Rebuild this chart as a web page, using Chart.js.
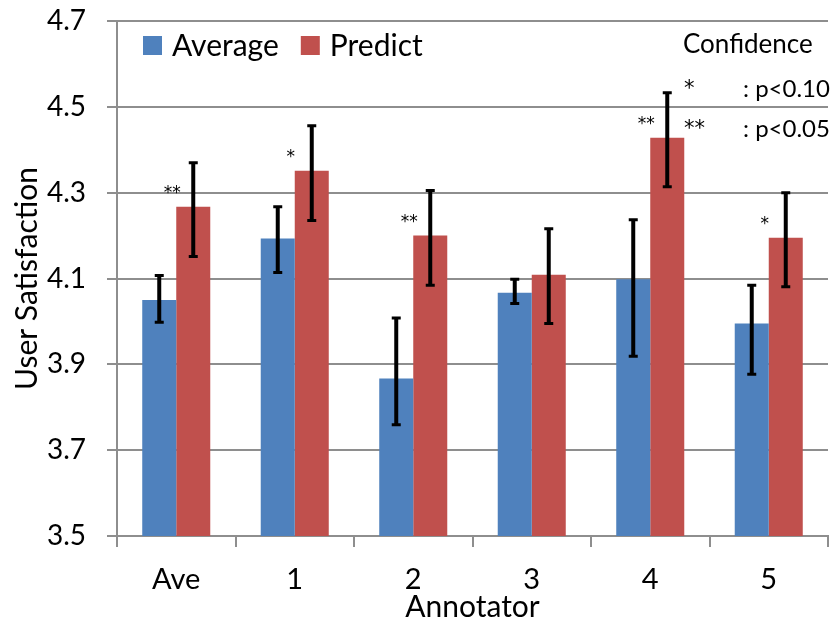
<!DOCTYPE html>
<html>
<head>
<meta charset="utf-8">
<script src="https://cdn.jsdelivr.net/npm/chart.js@4"></script>
<style>
html, body { margin: 0; padding: 0; background: #fff; }
#wrap { width: 839px; height: 622px; }
</style>
</head>
<body>
<div id="wrap"><canvas id="chart"></canvas></div>
<script>
const annotators = ["Ave", "1", "2", "3", "4", "5"];

const averageVals = [4.050, 4.193, 3.867, 4.067, 4.098, 3.995];
const averageLow  = [3.998, 4.114, 3.759, 4.042, 3.919, 3.877];
const averageHigh = [4.107, 4.267, 4.008, 4.098, 4.237, 4.084];

const predictVals = [4.267, 4.351, 4.200, 4.109, 4.428, 4.195];
const predictLow  = [4.151, 4.235, 4.084, 3.995, 4.314, 4.081];
const predictHigh = [4.370, 4.456, 4.305, 4.216, 4.533, 4.300];

const marks = ["**", "*", "**", "", "**", "*"];

const yTicks = [3.5, 3.7, 3.9, 4.1, 4.3, 4.5, 4.7];

const FONT = "Lato";
const STAR_FONT = "DejaVu Sans";
const GRID = "#8e8e8e";

// error bars drawn on top of each bar, at the bar's own centre
const errorBars = {
    id: "errorBars",
    afterDatasetsDraw(chart) {
        const ctx = chart.ctx;
        const y = chart.scales.y;
        const bounds = [[averageLow, averageHigh], [predictLow, predictHigh]];
        ctx.save();
        ctx.strokeStyle = "#000";
        chart.data.datasets.forEach((ds, di) => {
            const meta = chart.getDatasetMeta(di);
            meta.data.forEach((bar, i) => {
                const top = y.getPixelForValue(bounds[di][1][i]);
                const bot = y.getPixelForValue(bounds[di][0][i]);
                ctx.lineWidth = 4;
                ctx.beginPath();
                ctx.moveTo(bar.x, top);
                ctx.lineTo(bar.x, bot);
                ctx.stroke();
                ctx.lineWidth = 3;
                ctx.beginPath();
                ctx.moveTo(bar.x - 4.5, top);
                ctx.lineTo(bar.x + 4.5, top);
                ctx.moveTo(bar.x - 4.5, bot);
                ctx.lineTo(bar.x + 4.5, bot);
                ctx.stroke();
            });
        });
        ctx.restore();
    }
};

// legend, significance stars and the confidence key
const notes = {
    id: "notes",
    afterDraw(chart) {
        const ctx = chart.ctx;
        const area = chart.chartArea;
        const x = chart.scales.x;
        const y = chart.scales.y;
        ctx.save();

        // legend inside the plot
        let lx = area.left + 26;
        chart.data.datasets.forEach(ds => {
            ctx.fillStyle = ds.backgroundColor;
            ctx.fillRect(lx, area.top + 15, 19, 19);
            ctx.fillStyle = "#000";
            ctx.font = "30px " + FONT;
            ctx.textAlign = "left";
            ctx.textBaseline = "alphabetic";
            ctx.fillText(ds.label, lx + 29, area.top + 35);
            lx += 29 + ctx.measureText(ds.label).width + 22;
        });

        // stars above the Predict bars
        ctx.font = "17px " + STAR_FONT;
        ctx.textAlign = "center";
        ctx.textBaseline = "alphabetic";
        marks.forEach((m, i) => {
            if (!m) return;
            ctx.fillText(m, x.getPixelForValue(i) - 4, y.getPixelForValue(predictVals[i]) - 9);
        });

        // confidence key
        ctx.font = "26px " + FONT;
        ctx.textAlign = "left";
        ctx.fillText("Confidence", 683, 53);
        ctx.font = "24px " + FONT;
        ctx.fillText(": p<0.10", 743, 97);
        ctx.fillText(": p<0.05", 743, 137);
        ctx.font = "21px " + STAR_FONT;
        ctx.fillText("*", 684, 95);
        ctx.fillText("**", 684, 135);

        ctx.restore();
    }
};

new Chart(document.getElementById("chart"), {
    type: "bar",
    data: {
        labels: annotators,
        datasets: [
            {
                label: "Average",
                data: averageVals,
                backgroundColor: "#4f81bd",
                categoryPercentage: 0.574,
                barPercentage: 1.0
            },
            {
                label: "Predict",
                data: predictVals,
                backgroundColor: "#c0504d",
                categoryPercentage: 0.574,
                barPercentage: 1.0
            }
        ]
    },
    options: {
        responsive: true,
        maintainAspectRatio: false,
        animation: false,
        layout: { padding: { left: 0, right: 11, top: 0, bottom: 0 } },
        plugins: {
            legend: { display: false },
            tooltip: { enabled: false }
        },
        scales: {
            x: {
                afterFit: scale => { scale.height = 86; },
                grid: {
                    offset: true,
                    drawOnChartArea: false,
                    color: GRID,
                    lineWidth: 2,
                    tickLength: 11
                },
                border: { color: GRID, width: 2 },
                ticks: {
                    color: "#000",
                    padding: 15,
                    font: { family: FONT, size: 29 }
                },
                title: {
                    display: true,
                    text: "Annotator",
                    color: "#000",
                    padding: { top: 0, bottom: 0 },
                    font: { family: FONT, size: 30, lineHeight: 1 }
                }
            },
            y: {
                min: 3.5,
                max: 4.7,
                afterFit: scale => {
                    scale.width = 117;
                    scale.paddingTop = 21;
                    scale.paddingBottom = 0;
                },
                afterBuildTicks: scale => {
                    scale.ticks = yTicks.map(v => ({ value: v }));
                },
                grid: {
                    color: GRID,
                    lineWidth: 2,
                    tickLength: 10
                },
                border: { color: GRID, width: 2 },
                ticks: {
                    color: "#000",
                    padding: 21,
                    font: { family: FONT, size: 28 },
                    callback: v => Number(v).toFixed(1)
                },
                title: {
                    display: true,
                    text: "User Satisfaction",
                    color: "#000",
                    padding: { top: 12, bottom: 0 },
                    font: { family: FONT, size: 30, lineHeight: 1 }
                }
            }
        }
    },
    plugins: [errorBars, notes]
});
</script>
</body>
</html>
